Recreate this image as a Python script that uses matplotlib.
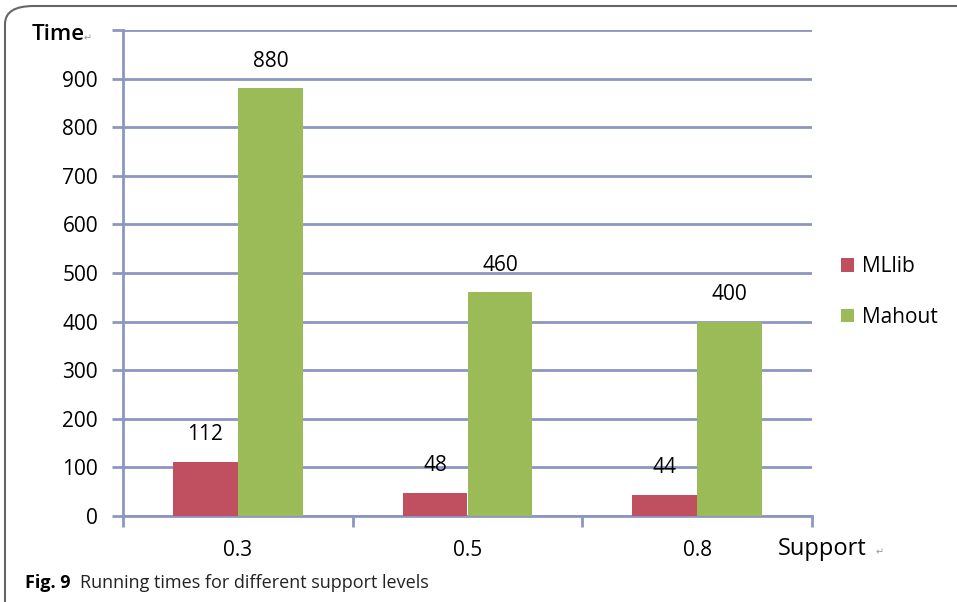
import numpy as np
import matplotlib
matplotlib.use('Agg')
from matplotlib import pyplot as plt
from matplotlib.patches import FancyBboxPatch

plt.rcParams['font.family'] = ['Open Sans', 'DejaVu Sans']

# 数据
supports = ['0.3', '0.5', '0.8']
mllib = [112, 48, 44]
mahout = [880, 460, 400]

grid_c = '#8c96c0'
red = '#c0505f'
green = '#9bbb59'

fig = plt.figure(figsize=(9.57, 6.02), dpi=100)
W, H = 957, 602

# 外框 (左、上, 圆角)
frame = FancyBboxPatch((5 / W, -20 / H), 1.2, (H - 6 + 20) / H,
                       boxstyle='round,pad=0,rounding_size=0.03',
                       transform=fig.transFigure, fill=False,
                       edgecolor='#666666', linewidth=1.5, clip_on=False)
fig.patches.append(frame)

ax = fig.add_axes([123 / W, 1 - 516 / H, (812 - 123) / W, (516 - 30) / H])

x = np.arange(len(supports))
w = 0.283
b1 = ax.bar(x - w / 2, mllib, w, color=red, label='MLlib', zorder=3)
b2 = ax.bar(x + w / 2, mahout, w, color=green, label='Mahout', zorder=3)

for bars, vals in [(b1, mllib), (b2, mahout)]:
    for r, v in zip(bars, vals):
        ax.text(r.get_x() + r.get_width() / 2, v + 56, str(v),
                ha='center', va='center', fontsize=15)

ax.set_xlim(-0.5, 2.5)
ax.set_ylim(0, 1000)
ax.set_yticks(range(0, 1001, 100))
ax.set_yticklabels([str(v) for v in range(0, 901, 100)] + [''])
ax.set_xticks([-0.5, 0.5, 1.5, 2.5])
ax.set_xticklabels([])
ax.yaxis.grid(True, color=grid_c, linewidth=2, zorder=0)
ax.tick_params(axis='y', length=8, width=2, color=grid_c, labelsize=15, pad=10)
ax.tick_params(axis='x', length=8, width=2, color=grid_c)
for s in ['top', 'right']:
    ax.spines[s].set_visible(False)
for s in ['left', 'bottom']:
    ax.spines[s].set_color(grid_c)
    ax.spines[s].set_linewidth(2)

for i, s in enumerate(supports):
    ax.text(i, -0.072, s, transform=ax.get_xaxis_transform(),
            ha='center', va='center', fontsize=15)

fig.text(778 / W, 1 - 549 / H, 'Support', fontsize=17, va='center', ha='left')
fig.text(876 / W, 1 - 553 / H, '\u21b5', fontsize=7, color='#999999', va='center')
fig.text(32 / W, 1 - 34 / H, 'Time', fontsize=16, fontweight='semibold',
         va='center', ha='left')
fig.text(84 / W, 1 - 39 / H, '\u21b5', fontsize=7, color='#999999', va='center')

# 图例
ax.legend(loc='center left', bbox_to_anchor=(1.015, 0.461), frameon=False,
          fontsize=15, handlelength=0.6, handleheight=0.6,
          handletextpad=0.4, labelspacing=1.4)

fig.text(25 / W, 1 - 583 / H, 'Fig. 9', fontsize=13, fontweight='bold', va='center')
fig.text(80 / W, 1 - 583 / H, 'Running times for different support levels',
         fontsize=13, va='center', color='#222222')

fig.savefig('out.png', dpi=100)
